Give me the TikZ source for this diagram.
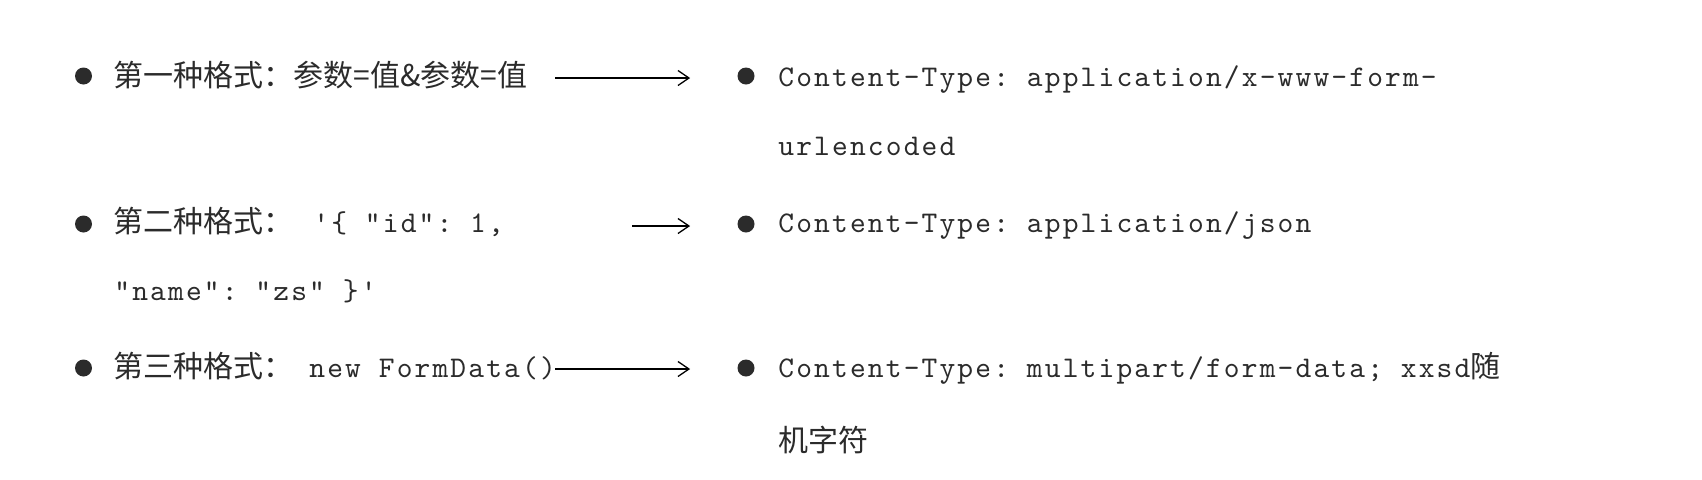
\documentclass[tikz,border=0pt]{standalone}
\usepackage{fontspec}
\newfontfamily\cjk{Noto Sans CJK SC}
\setmonofont{lmmono10-regular.otf}[LetterSpace=7.2]
\usetikzlibrary{arrows.meta}
\definecolor{txtgray}{HTML}{2B2B2B}
\tikzset{
  bulletdot/.style={circle,fill=txtgray,inner sep=0pt,minimum size=8.5pt},
  cntext/.style={anchor=base west,inner sep=0pt,text=txtgray,font=\cjk\fontsize{15pt}{18pt}\selectfont},
  codetext/.style={anchor=base west,inner sep=0pt,text=txtgray,font=\ttfamily\fontsize{15pt}{18pt}\selectfont},
  maparrow/.style={-{Straight Barb[length=5.5pt,width=7.5pt]},line width=0.65pt,draw=black}
}

\begin{document}
\begin{tikzpicture}[x=0.5pt,y=0.5pt,yscale=-1,xscale=1]
\useasboundingbox (0,0) rectangle (1702,479);

%Shape: Circle
\node [bulletdot] (b1) at (83.5,76) {};
\node [bulletdot] (b2) at (83.5,224) {};
\node [bulletdot] (b3) at (83.5,368) {};
\node [bulletdot] (b1r) at (746,76) {};
\node [bulletdot] (b2r) at (746,224) {};
\node [bulletdot] (b3r) at (746,368) {};

% Text Node
\node [cntext] (l1) at (113,86) {第一种格式：参数=值\&参数=值};
% Text Node
\node [cntext] (l2) at (113,232) {第二种格式：};
% Text Node
\node [codetext] (l2a) at (313,232) {'\{ "id": 1,};
% Text Node
\node [codetext] (l2b) at (114,300) {"name": "zs" \}'};
% Text Node
\node [cntext] (l3) at (113,377) {第三种格式：};
% Text Node
\node [codetext] (l3a) at (309,377) {new FormData()};

% Text Node
\node [codetext] (r1) at (778,86) {Content-Type: application/x-www-form-};
% Text Node
\node [codetext] (r1b) at (778,155) {urlencoded};
% Text Node
\node [codetext] (r2) at (778,232) {Content-Type: application/json};
% Text Node
\node [codetext] (r3) at (778,377) {Content-Type: multipart/form-data; xxsd{\cjk 随}};
% Text Node
\node [cntext] (r3b) at (778,451) {机字符};

%Straight Lines
\coordinate (a1) at (555,78);
\coordinate (a2) at (632,226);
\coordinate (a3) at (555,369);
\draw [maparrow, shorten >=23.5pt] (a1) -- (a1 -| b1r.west);
\draw [maparrow, shorten >=23.5pt] (a2) -- (a2 -| b2r.west);
\draw [maparrow, shorten >=23.5pt] (a3) -- (a3 -| b3r.west);

\end{tikzpicture}
\end{document}
